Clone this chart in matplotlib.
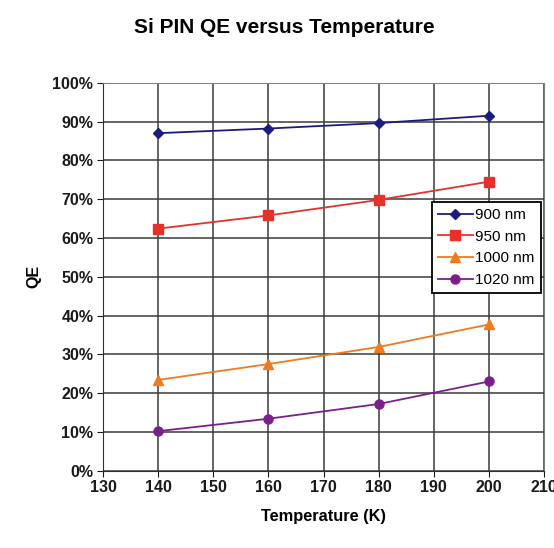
import numpy as np
import matplotlib
matplotlib.use("Agg")
import matplotlib.pyplot as plt
from matplotlib.ticker import PercentFormatter, MultipleLocator

plt.rcParams['font.family'] = ['Liberation Sans', 'DejaVu Sans']

# data
temps = [140, 160, 180, 200]
qe_900 = [87.0, 88.2, 89.6, 91.5]
qe_950 = [62.4, 65.8, 69.8, 74.5]
qe_1000 = [23.4, 27.5, 31.9, 37.7]
qe_1020 = [10.2, 13.4, 17.2, 23.0]
labels = ["900 nm", "950 nm", "1000 nm", "1020 nm"]

series = [qe_900, qe_950, qe_1000, qe_1020]
colors = ["#1c1c80", "#e8302a", "#f07a1e", "#7a1f8c"]
markers = ["D", "s", "^", "o"]
msizes = [5, 6.5, 6.5, 6.5]

fig = plt.figure(figsize=(5.54, 5.48), dpi=100)
ax = fig.add_axes([0.186, 0.141, 0.796, 0.708])

for vals, lab, c, m, ms in zip(series, labels, colors, markers, msizes):
    ax.plot(temps, vals, color=c, marker=m, markersize=ms, linewidth=1.3, label=lab)

ax.set_xlim(130, 210)
ax.set_ylim(0, 100)
ax.xaxis.set_major_locator(MultipleLocator(10))
ax.yaxis.set_major_locator(MultipleLocator(10))
ax.yaxis.set_major_formatter(PercentFormatter(decimals=0))
ax.grid(True, color="#3a3a3a", linewidth=1.1)
ax.set_axisbelow(True)
for side in ["top", "right"]:
    ax.spines[side].set_color("#808080")
for side in ["left", "bottom"]:
    ax.spines[side].set_color("#303030")
ax.tick_params(direction="out", length=4, labelsize=11.5, colors="#1a1a1a", pad=3)
for lbl in ax.get_xticklabels() + ax.get_yticklabels():
    lbl.set_fontweight("bold")

ax.set_xlabel("Temperature (K)", fontsize=11.8, fontweight="bold", labelpad=10)
ax.set_ylabel("QE", fontsize=11.5, fontweight="bold", labelpad=8)
fig.suptitle("Si PIN QE versus Temperature", x=0.514, y=0.968, fontsize=15, fontweight="bold")

leg = ax.legend(loc="upper left", bbox_to_anchor=(0.745, 0.693), fontsize=11,
                frameon=True, fancybox=False, borderpad=0.4, labelspacing=0.5,
                handlelength=2.3, handletextpad=0.15, borderaxespad=0)
leg.get_frame().set_edgecolor("black")
leg.get_frame().set_linewidth(1.3)
leg.get_frame().set_alpha(1)

fig.savefig("out.png", dpi=100)
